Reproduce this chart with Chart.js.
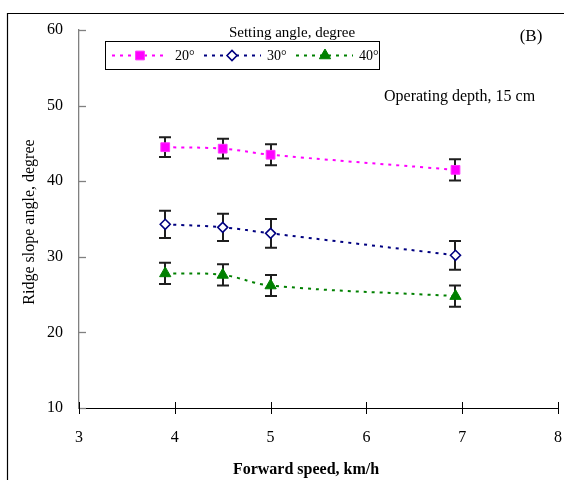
<!DOCTYPE html>
<html>
<head>
<meta charset="utf-8">
<script src="https://cdn.jsdelivr.net/npm/chart.js@4/dist/chart.umd.min.js"></script>
<style>
html,body{margin:0;padding:0;background:#fff;}
#wrap{position:relative;width:564px;height:480px;}
</style>
</head>
<body>
<div id="wrap"><canvas id="c" width="564" height="480"></canvas></div>
<script>
// ---- data ----
const speeds = [3.9, 4.5, 5.0, 6.93];
const seriesNames = ['20°', '30°', '40°'];
const angle20 = [44.5, 44.3, 43.5, 41.5];
const angle30 = [34.3, 33.9, 33.1, 30.2];
const angle40 = [27.8, 27.6, 26.2, 24.8];
const err20 = [1.3, 1.3, 1.4, 1.4];
const err30 = [1.8, 1.8, 1.9, 1.9];
const err40 = [1.4, 1.4, 1.4, 1.4];
const xTicks = [3, 4, 5, 6, 7, 8];
const yTicks = [10, 20, 30, 40, 50, 60];
const xTitle = 'Forward speed, km/h';
const yTitle = 'Ridge slope angle, degree';
const legendTitle = 'Setting angle, degree';
const panelLabel = '(B)';
const noteText = 'Operating depth, 15 cm';

const FONT = '"Liberation Serif", "Times New Roman", serif';
const toPts = (vals) => vals.map((v, i) => ({x: speeds[i], y: v}));

const errs = [err20, err30, err40];

const datasets = [
  {label: seriesNames[0], data: toPts(angle20), borderColor: '#FF00FF', backgroundColor: '#FF00FF',
   pointStyle: 'rect', pointRadius: 6.2, pointBorderWidth: 1, pointBorderColor: '#FF33FF', pointBackgroundColor: '#FF00FF'},
  {label: seriesNames[1], data: toPts(angle30), borderColor: '#000080', backgroundColor: '#000080',
   pointStyle: 'rectRot', pointRadius: 5, pointBorderWidth: 1.6, pointBorderColor: '#000080', pointBackgroundColor: '#FFFFFF'},
  {label: seriesNames[2], data: toPts(angle40), borderColor: '#008000', backgroundColor: '#008000',
   pointStyle: 'triangle', pointRadius: 6.5, pointBorderWidth: 1, pointBorderColor: '#008000', pointBackgroundColor: '#008000'}
].map(d => Object.assign(d, {showLine: true, tension: 0.4, borderWidth: 2, borderDash: [3, 5], borderCapStyle: 'butt', fill: false}));

const framePlugin = {
  id: 'frame',
  beforeDraw(chart) {
    const ctx = chart.ctx;
    ctx.save();
    ctx.fillStyle = '#fff';
    ctx.fillRect(0, 0, chart.width, chart.height);
    ctx.strokeStyle = '#000';
    ctx.lineWidth = 1.2;
    ctx.beginPath();
    ctx.moveTo(7.5, 480);
    ctx.lineTo(7.5, 13.5);
    ctx.lineTo(564, 13.5);
    ctx.stroke();
    ctx.restore();
  }
};

const errorBarPlugin = {
  id: 'errorBars',
  beforeDatasetsDraw(chart) {
    const ctx = chart.ctx;
    const xs = chart.scales.x, ys = chart.scales.y;
    ctx.save();
    ctx.strokeStyle = '#1e1e1e';
    ctx.lineWidth = 2;
    chart.data.datasets.forEach((ds, i) => {
      ds.data.forEach((p, j) => {
        const px = Math.round(xs.getPixelForValue(p.x));
        const top = ys.getPixelForValue(p.y + errs[i][j]);
        const bot = ys.getPixelForValue(p.y - errs[i][j]);
        ctx.beginPath();
        ctx.moveTo(px, top); ctx.lineTo(px, bot);
        ctx.moveTo(px - 6, top); ctx.lineTo(px + 6, top);
        ctx.moveTo(px - 6, bot); ctx.lineTo(px + 6, bot);
        ctx.stroke();
      });
    });
    ctx.restore();
  }
};

const decorPlugin = {
  id: 'decor',
  afterDraw(chart) {
    const ctx = chart.ctx;
    const xs = chart.scales.x, ys = chart.scales.y;
    const area = chart.chartArea;
    ctx.save();
    // y ticks (inside)
    ctx.strokeStyle = '#808080';
    ctx.lineWidth = 1.3;
    yTicks.forEach(v => {
      const py = Math.round(ys.getPixelForValue(v)) + 0.5;
      ctx.beginPath(); ctx.moveTo(area.left, py); ctx.lineTo(area.left + 7, py); ctx.stroke();
    });
    // x ticks (cross)
    ctx.strokeStyle = '#000';
    ctx.lineWidth = 1;
    xTicks.forEach(v => {
      const px = Math.round(xs.getPixelForValue(v)) + 0.5;
      ctx.beginPath(); ctx.moveTo(px, area.bottom - 6); ctx.lineTo(px, area.bottom + 6); ctx.stroke();
    });
    // x axis title
    ctx.fillStyle = '#000';
    ctx.textBaseline = 'middle';
    ctx.textAlign = 'center';
    ctx.font = 'bold 16px ' + FONT;
    ctx.fillText(xTitle, 306, 470);
    // y axis title
    ctx.save();
    ctx.translate(30, 222);
    ctx.rotate(-Math.PI / 2);
    ctx.font = '16px ' + FONT;
    ctx.fillText(yTitle, 0, 0);
    ctx.restore();
    // legend title, panel label, note
    ctx.font = '15px ' + FONT;
    ctx.fillText(legendTitle, 292, 33);
    ctx.font = '17px ' + FONT;
    ctx.fillText(panelLabel, 531, 37);
    ctx.font = '16px ' + FONT;
    ctx.textAlign = 'left';
    ctx.fillText(noteText, 384, 97);
    // legend box
    const boxL = 105.5, boxT = 41.5, boxW = 274, boxH = 28;
    ctx.strokeStyle = '#000';
    ctx.lineWidth = 1;
    ctx.strokeRect(boxL, boxT, boxW, boxH);
    const rowY = boxT + boxH / 2;
    const items = [
      {x1: 112, x2: 168, mx: 140, lx: 175},
      {x1: 204, x2: 261, mx: 232, lx: 267},
      {x1: 296, x2: 353, mx: 325, lx: 359}
    ];
    chart.data.datasets.forEach((ds, i) => {
      const it = items[i];
      ctx.save();
      ctx.strokeStyle = ds.borderColor;
      ctx.lineWidth = 2;
      ctx.setLineDash([3, 5]);
      ctx.beginPath(); ctx.moveTo(it.x1, rowY); ctx.lineTo(it.x2, rowY); ctx.stroke();
      ctx.restore();
      ctx.save();
      ctx.fillStyle = ds.pointBackgroundColor;
      ctx.strokeStyle = ds.pointBorderColor;
      ctx.lineWidth = ds.pointBorderWidth;
      Chart.helpers.drawPoint(ctx, {pointStyle: ds.pointStyle, radius: ds.pointRadius, rotation: 0, borderWidth: ds.pointBorderWidth}, it.mx, rowY);
      ctx.restore();
      ctx.fillStyle = '#000';
      ctx.font = '14px ' + FONT;
      ctx.textAlign = 'left';
      ctx.textBaseline = 'middle';
      ctx.fillText(ds.label, it.lx, rowY + 1);
    });
    ctx.restore();
  }
};

new Chart(document.getElementById('c'), {
  type: 'scatter',
  data: {datasets},
  options: {
    responsive: false,
    animation: false,
    devicePixelRatio: 1,
    layout: {padding: {left: 0, top: 30, right: 6, bottom: 0}, autoPadding: false},
    plugins: {legend: {display: false}, tooltip: {enabled: false}, title: {display: false}},
    scales: {
      x: {
        type: 'linear', min: 3, max: 8,
        afterBuildTicks: (s) => { s.ticks = xTicks.map(v => ({value: v})); },
        afterFit: (s) => { s.height = 72; s.paddingLeft = 0; s.paddingRight = 0; },
        ticks: {font: {family: FONT, size: 16}, color: '#000', padding: 20},
        grid: {display: false, drawTicks: false},
        border: {display: true, color: '#000', width: 1}
      },
      y: {
        type: 'linear', min: 10, max: 60,
        afterBuildTicks: (s) => { s.ticks = yTicks.map(v => ({value: v})); },
        afterFit: (s) => { s.width = 79; s.paddingTop = 0; s.paddingBottom = 0; },
        ticks: {font: {family: FONT, size: 16}, color: '#000', padding: 16},
        grid: {display: false, drawTicks: false},
        border: {display: true, color: '#808080', width: 1.3}
      }
    }
  },
  plugins: [framePlugin, errorBarPlugin, decorPlugin]
});
</script>
</body>
</html>
